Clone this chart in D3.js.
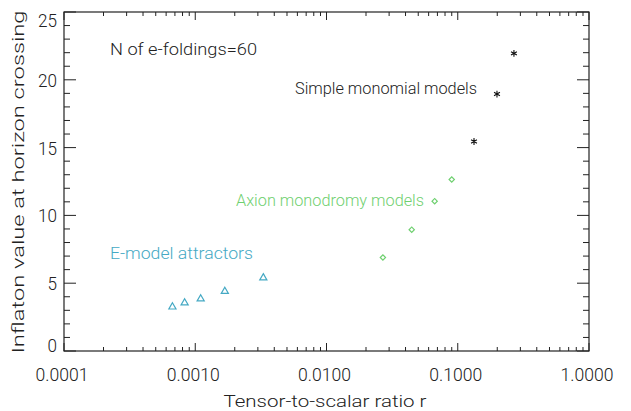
<!DOCTYPE html>
<html lang="en">
<head>
    <meta charset="UTF-8">
    <title>Inflaton value vs r</title>
    <script src="https://cdn.jsdelivr.net/npm/d3@7"></script>
    <style>
        body { margin: 0; background: #fff; }
        text { font-family: "Roboto", "DejaVu Sans", sans-serif; font-weight: 300; }
    </style>
</head>
<body>
    <svg width="631" height="411"></svg>
    <script>
        // data
        const eModelR = [0.00067, 0.00083, 0.0011, 0.00168, 0.0033]
        const eModelPhi = [3.25, 3.55, 3.85, 4.4, 5.4]
        const axionR = [0.0269, 0.0446, 0.0667, 0.090]
        const axionPhi = [6.9, 8.95, 11.05, 12.65]
        const monoR = [0.133, 0.199, 0.268]
        const monoPhi = [15.45, 18.95, 21.95]
        const xTicks = [0.0001, 0.001, 0.01, 0.1, 1]
        const yTicks = [0, 5, 10, 15, 20, 25]

        const svg = d3.select('svg')
        const mLeft = 64, mRight = 589, mTop = 12, mBottom = 351

        const x = d3.scaleLog().domain([0.0001, 1]).range([mLeft, mRight])
        const y = d3.scaleLinear().domain([0, 25]).range([mBottom, mTop])

        // minor ticks for log axis: 2..9 per decade
        let xMinor = []
        for (let e = -4; e < 0; e++) {
            for (let k = 2; k < 10; k++) xMinor.push(k * Math.pow(10, e))
        }
        let yMinor = d3.range(0, 26, 1).filter(v => v % 5 !== 0)

        const axisColor = '#222'

        // frame
        svg.append('rect')
            .attr('x', mLeft).attr('y', mTop)
            .attr('width', mRight - mLeft).attr('height', mBottom - mTop)
            .attr('fill', 'none').attr('stroke', axisColor).attr('stroke-width', 1.2)

        // ticks drawn inward on all four sides
        const tickG = svg.append('g').attr('stroke', axisColor).attr('stroke-width', 1)
        function xTickLines(vals, len) {
            tickG.selectAll(null).data(vals).enter().append('line')
                .attr('x1', d => x(d)).attr('x2', d => x(d))
                .attr('y1', mBottom).attr('y2', mBottom - len)
            tickG.selectAll(null).data(vals).enter().append('line')
                .attr('x1', d => x(d)).attr('x2', d => x(d))
                .attr('y1', mTop).attr('y2', mTop + len)
        }
        function yTickLines(vals, len) {
            tickG.selectAll(null).data(vals).enter().append('line')
                .attr('y1', d => y(d)).attr('y2', d => y(d))
                .attr('x1', mLeft).attr('x2', mLeft + len)
            tickG.selectAll(null).data(vals).enter().append('line')
                .attr('y1', d => y(d)).attr('y2', d => y(d))
                .attr('x1', mRight).attr('x2', mRight - len)
        }
        xTickLines(xTicks, 8)
        xTickLines(xMinor, 4)
        yTickLines(yTicks, 12)
        yTickLines(yMinor, 6)

        // tick labels
        svg.selectAll('.xl').data(xTicks).enter().append('text')
            .attr('class', 'xl')
            .attr('x', d => x(d) - 2)
            .attr('y', 381)
            .attr('text-anchor', 'middle')
            .attr('font-size', 19)
            .attr('fill', axisColor)
            .attr('textLength', 53).attr('lengthAdjust', 'spacingAndGlyphs')
            .text(d => d.toFixed(4))

        // end labels are pushed inside the frame, like the original
        svg.selectAll('.yl').data(yTicks).enter().append('text')
            .attr('class', 'yl')
            .attr('x', 57)
            .attr('y', d => Math.min(Math.max(y(d), 20), 345) + 7)
            .attr('text-anchor', 'end')
            .attr('font-size', 19)
            .attr('fill', axisColor)
            .attr('textLength', d => String(d).length * 9.5).attr('lengthAdjust', 'spacingAndGlyphs')
            .text(d => d)

        // axis titles
        svg.append('text')
            .attr('x', 325).attr('y', 407)
            .attr('text-anchor', 'middle')
            .attr('font-size', 17)
            .attr('fill', axisColor)
            .attr('textLength', 203).attr('lengthAdjust', 'spacingAndGlyphs')
            .text('Tensor-to-scalar ratio r')

        svg.append('text')
            .attr('transform', 'translate(24,182) rotate(-90)')
            .attr('text-anchor', 'middle')
            .attr('font-size', 17)
            .attr('fill', axisColor)
            .attr('textLength', 343).attr('lengthAdjust', 'spacingAndGlyphs')
            .text('Inflaton value at horizon crossing')

        // markers
        const blue = '#45a9c4', green = '#6fd070', black = '#111'

        const triangle = d3.symbol().type(d3.symbolTriangle).size(22)
        svg.selectAll('.em').data(eModelR).enter().append('path')
            .attr('class', 'em')
            .attr('d', triangle)
            .attr('transform', (d, i) => `translate(${x(d)},${y(eModelPhi[i])})`)
            .attr('fill', 'none').attr('stroke', blue).attr('stroke-width', 1.2)

        const diamond = d3.symbol().type(d3.symbolSquare).size(14)
        svg.selectAll('.ax').data(axionR).enter().append('path')
            .attr('class', 'ax')
            .attr('d', diamond)
            .attr('transform', (d, i) => `translate(${x(d)},${y(axionPhi[i])}) rotate(45)`)
            .attr('fill', 'none').attr('stroke', green).attr('stroke-width', 1.2)

        const star = d3.symbol().type(d3.symbolAsterisk).size(32)
        svg.selectAll('.mo').data(monoR).enter().append('path')
            .attr('class', 'mo')
            .attr('d', star)
            .attr('transform', (d, i) => `translate(${x(d)},${y(monoPhi[i])})`)
            .attr('fill', 'none').attr('stroke', black).attr('stroke-width', 1.1)

        // annotations
        function note(txt, px, py, len, color) {
            svg.append('text')
                .attr('x', px).attr('y', py)
                .attr('font-size', 16)
                .attr('fill', color)
                .attr('textLength', len).attr('lengthAdjust', 'spacingAndGlyphs')
                .text(txt)
        }
        note('N of e-foldings=60', 110, 55, 147, axisColor)
        note('Simple monomial models', 295, 94, 182, axisColor)
        note('Axion monodromy models', 236, 206, 188, green)
        note('E-model attractors', 110, 259, 143, blue)
    </script>
</body>
</html>
